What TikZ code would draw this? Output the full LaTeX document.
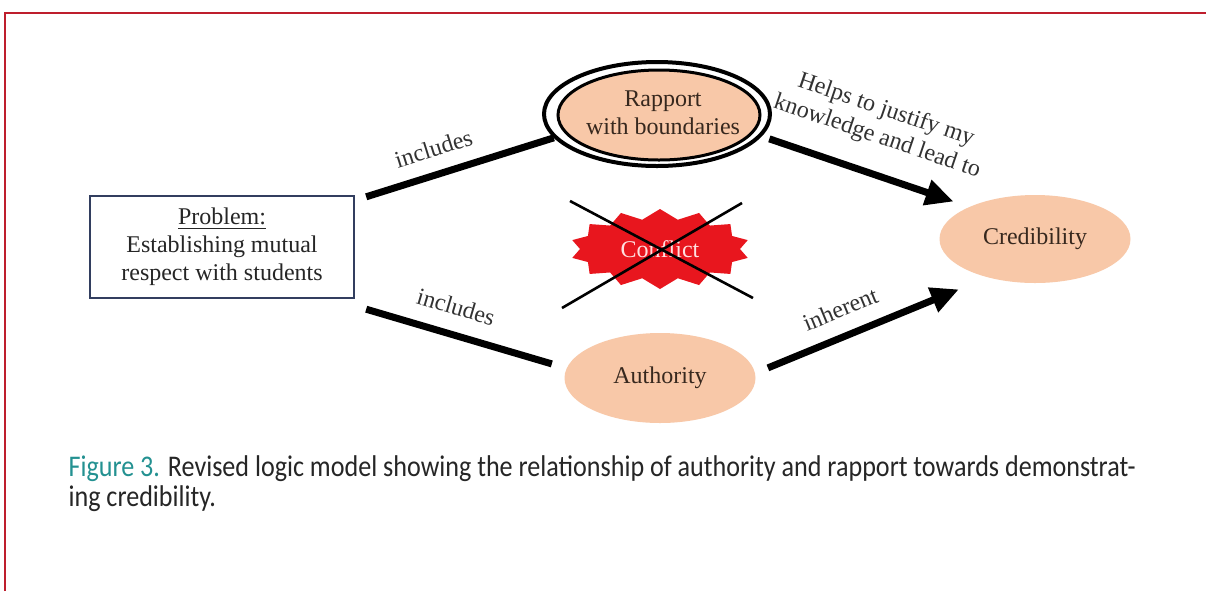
\documentclass[tikz,border=0pt]{standalone}
\usepackage{fontspec}
\setmainfont{Liberation Serif}
\newfontfamily\capfont[FakeStretch=0.87]{Carlito}
\usetikzlibrary{arrows.meta,shapes.geometric,shapes.symbols}
\definecolor{peach}{RGB}{248,200,168}
\definecolor{framered}{RGB}{190,30,45}
\definecolor{navy}{RGB}{50,62,95}
\definecolor{figteal}{RGB}{35,145,145}
\definecolor{ink}{RGB}{55,40,30}
\definecolor{labelgray}{RGB}{50,50,50}
\definecolor{burst}{RGB}{232,22,30}
\begin{document}
\begin{tikzpicture}[x=0.5pt,y=-0.5pt,>={Triangle[length=14pt,width=12.5pt]},semithick,
        bubble/.style={shape=ellipse,fill=peach,text=ink,font=\fontsize{12}{14}\selectfont,align=center},
        link/.style={line width=3.5pt},
        lbl/.style={sloped,font=\fontsize{12}{14}\selectfont,text=labelgray,inner sep=2pt,align=center},
        captext/.style={anchor=base west,font=\capfont\fontsize{15}{17}\selectfont,text=black!85,inner sep=0pt}]
                \useasboundingbox (0,0) rectangle (1206,591);
                \fill[white] (0,0) rectangle (1206,591);
                \draw[framered,line width=1pt] (5,591) -- (5,13) -- (1206,13);
                \node[shape=rectangle,draw=navy,line width=1.2pt,minimum width=132pt,minimum height=51pt,align=center,text=black!85,font=\fontsize{12}{14}\selectfont](prob)at(222, 247){\underline{Problem:}\\Establishing mutual\\respect with students};
                \node[shape=ellipse,draw=black,line width=2pt,minimum width=113pt,minimum height=52pt](rap)at(657, 114){};
                \node[bubble,draw=black,line width=1.5pt,inner sep=0pt,minimum width=101pt,minimum height=45pt](rapin)at(659, 115){};
                \node[text=ink,font=\fontsize{12}{14}\selectfont,align=center](raptext)at(663, 113){Rapport\\with boundaries};
                \node[shape=starburst,fill=burst,random starburst=0,starburst points=14,starburst point height=5pt,minimum width=90pt,minimum height=40pt,text=white!88!red,font=\fontsize{12}{14}\selectfont](conf)at(660, 249){Conflict};
                \draw[line width=1.3pt] ([shift={(-90,-48)}]conf.center) -- ([shift={(93,49)}]conf.center);
                \draw[line width=1.3pt] ([shift={(82,-46)}]conf.center) -- ([shift={(-98,59)}]conf.center);
                \node[bubble,minimum width=95.5pt,minimum height=44pt](cred)at(1035, 239){Credibility};
                \node[bubble,minimum width=95.5pt,minimum height=45pt](auth)at(660, 378){Authority};
                \path[link]([shift={(11,2)}]prob.north east) edge node[lbl,above=5pt,pos=.40]{includes} (rap.193)
                ([shift={(11,10)}]prob.south east) edge[shorten >=7.5pt] node[lbl,above=6pt,pos=.41]{includes} (auth.174)
                (rap.-12) edge[->,shorten <=4pt,shorten >=8pt] node[lbl,above=9pt,pos=.50]{Helps to justify my\\knowledge and lead to} (cred.154)
                (auth.3.7) edge[->,shorten <=6.7pt,shorten >=15.3pt] node[lbl,above=5.5pt,pos=.41]{inherent} (cred.219.6);
                \node[captext](cap1)at(68, 476){\textcolor{figteal}{Figure 3.} Revised logic model showing the relationship of authority and rapport towards demonstrat-};
                \node[captext](cap2)at(68, 506){ing credibility.};
            \end{tikzpicture}
\end{document}
